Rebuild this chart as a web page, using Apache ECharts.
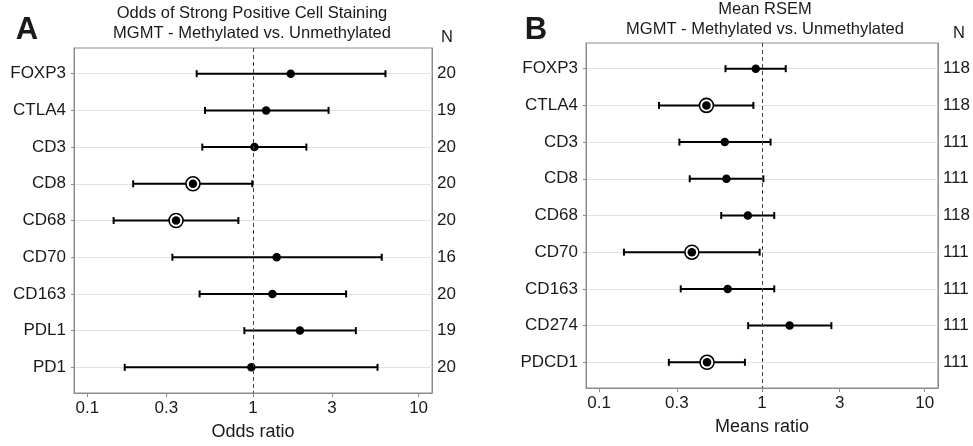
<!DOCTYPE html>
<html>
<head>
<meta charset="utf-8">
<script src="https://cdn.jsdelivr.net/npm/echarts@6/dist/echarts.min.js"></script>
<style>
  html, body { margin: 0; padding: 0; background: #fff; }
  #chart { width: 973px; height: 446px; }
</style>
</head>
<body>
<div id="chart"></div>
<script>
// Panel A: odds of strong positive cell staining
const markersA = ['FOXP3', 'CTLA4', 'CD3', 'CD8', 'CD68', 'CD70', 'CD163', 'PDL1', 'PD1'];
const estA = [1.69, 1.20, 1.02, 0.434, 0.343, 1.39, 1.31, 1.92, 0.978];
const lowA = [0.457, 0.513, 0.494, 0.189, 0.144, 0.326, 0.476, 0.887, 0.168];
const highA = [6.31, 2.86, 2.10, 0.99, 0.816, 5.99, 3.65, 4.18, 5.65];
const nA = [20, 19, 20, 20, 20, 16, 20, 19, 20];
const sigA = [false, false, false, true, true, false, false, false, false];

// Panel B: mean RSEM
const markersB = ['FOXP3', 'CTLA4', 'CD3', 'CD8', 'CD68', 'CD70', 'CD163', 'CD274', 'PDCD1'];
const estB = [0.916, 0.456, 0.591, 0.605, 0.819, 0.371, 0.616, 1.48, 0.460];
const lowB = [0.597, 0.233, 0.311, 0.360, 0.562, 0.142, 0.317, 0.823, 0.268];
const highB = [1.40, 0.886, 1.13, 1.02, 1.19, 0.968, 1.19, 2.67, 0.786];
const nB = [118, 118, 111, 111, 118, 111, 111, 111, 111];
const sigB = [false, true, false, false, false, true, false, false, true];

const xTicks = [0.1, 0.3, 1, 3, 10];

const FONT = '"Liberation Sans", Arial, Helvetica, sans-serif';
const TXT = '#1a1a1a';
const rowIdx = markersA.map((_, i) => i);

const chart = echarts.init(document.getElementById('chart'));

function renderBar(params, api) {
  const y = api.value(2);
  const lo = api.coord([api.value(0), y]);
  const hi = api.coord([api.value(1), y]);
  const h = 3.5;
  const st = { stroke: '#000', lineWidth: 2 };
  return {
    type: 'group',
    children: [
      { type: 'line', shape: { x1: lo[0], y1: lo[1], x2: hi[0], y2: hi[1] }, style: st },
      { type: 'line', shape: { x1: lo[0], y1: lo[1] - h, x2: lo[0], y2: lo[1] + h }, style: st },
      { type: 'line', shape: { x1: hi[0], y1: hi[1] - h, x2: hi[0], y2: hi[1] + h }, style: st }
    ]
  };
}

function xAxisFor(gi, name) {
  return {
    type: 'log',
    logBase: 10,
    gridIndex: gi,
    min: 0.083,
    max: 12.05,
    name: name,
    nameLocation: 'middle',
    nameGap: 30,
    nameTextStyle: { fontSize: 18, color: TXT, fontFamily: FONT },
    axisLine: { show: true, onZero: false, lineStyle: { color: '#8c8c8c' } },
    axisTick: { show: true, length: 4, customValues: xTicks, lineStyle: { color: '#8c8c8c' } },
    axisLabel: {
      customValues: xTicks,
      fontSize: 17, color: TXT, fontFamily: FONT, margin: 7,
      formatter: v => String(+(+v).toPrecision(3))
    },
    splitLine: { show: false },
    minorTick: { show: false }
  };
}

function yAxesFor(gi, names, ns) {
  return [
    {
      type: 'value', gridIndex: gi, inverse: true, min: -0.7, max: 8.7,
      position: 'left',
      axisLine: { show: true, onZero: false, lineStyle: { color: '#8c8c8c' } },
      axisTick: { show: true, length: 3, customValues: rowIdx, lineStyle: { color: '#8c8c8c' } },
      axisLabel: {
        customValues: rowIdx, fontSize: 17, color: TXT, fontFamily: FONT, margin: 8,
        formatter: v => names[Math.round(v)]
      },
      splitLine: { show: true, lineStyle: { color: '#e2e2e2', width: 1 } }
    },
    {
      type: 'value', gridIndex: gi, inverse: true, min: -0.7, max: 8.7,
      position: 'right',
      axisLine: { show: true, onZero: false, lineStyle: { color: '#8c8c8c' } },
      axisTick: { show: false, customValues: rowIdx },
      axisLabel: {
        customValues: rowIdx, fontSize: 17, color: TXT, fontFamily: FONT, margin: 5,
        formatter: v => String(ns[Math.round(v)])
      },
      splitLine: { show: false }
    }
  ];
}

function seriesFor(gi, est, low, high, sig) {
  const yi = gi * 2;
  return [
    {
      type: 'custom', xAxisIndex: gi, yAxisIndex: yi,
      renderItem: renderBar,
      encode: { x: [0, 1], y: 2 },
      data: low.map((lo, i) => [lo, high[i], i]),
      z: 2,
      markLine: {
        silent: true, symbol: ['none', 'none'],
        label: { show: false },
        lineStyle: { color: '#444', type: [4, 3], width: 1 },
        data: [{ xAxis: 1 }]
      }
    },
    {
      type: 'scatter', xAxisIndex: gi, yAxisIndex: yi,
      symbol: 'circle', symbolSize: 14,
      itemStyle: { color: '#fff', borderColor: '#000', borderWidth: 1.6, opacity: 1 },
      data: est.map((v, i) => [v, i]).filter((_, i) => sig[i]),
      z: 3
    },
    {
      type: 'scatter', xAxisIndex: gi, yAxisIndex: yi,
      symbol: 'circle', symbolSize: 8.5,
      itemStyle: { color: '#000', opacity: 1 },
      data: est.map((v, i) => [v, i]),
      z: 4
    }
  ];
}

function txt(x, y, text, size, weight) {
  return {
    type: 'text', x: x, y: y,
    style: {
      text: text, align: 'center', verticalAlign: 'middle',
      font: (weight || 'normal') + ' ' + size + 'px ' + FONT, fill: TXT
    }
  };
}

chart.setOption({
  animation: false,
  backgroundColor: '#fff',
  grid: [
    { left: 74, right: 541, top: 48, bottom: 52, show: true, borderColor: '#8c8c8c', borderWidth: 1 },
    { left: 586, right: 30, top: 43, bottom: 58, show: true, borderColor: '#8c8c8c', borderWidth: 1 }
  ],
  xAxis: [xAxisFor(0, 'Odds ratio'), xAxisFor(1, 'Means ratio')],
  yAxis: yAxesFor(0, markersA, nA).concat(yAxesFor(1, markersB, nB)),
  series: seriesFor(0, estA, lowA, highA, sigA).concat(seriesFor(1, estB, lowB, highB, sigB)),
  graphic: [
    txt(27, 30, 'A', 31, 'bold'),
    txt(252, 13, 'Odds of Strong Positive Cell Staining', 16.5),
    txt(252, 33, 'MGMT - Methylated vs. Unmethylated', 16.5),
    txt(447, 37, 'N', 16.5),
    txt(536, 30, 'B', 31, 'bold'),
    txt(765, 9, 'Mean RSEM', 16.5),
    txt(765, 29, 'MGMT - Methylated vs. Unmethylated', 16.5),
    txt(959, 33, 'N', 16.5)
  ]
});
</script>
</body>
</html>
